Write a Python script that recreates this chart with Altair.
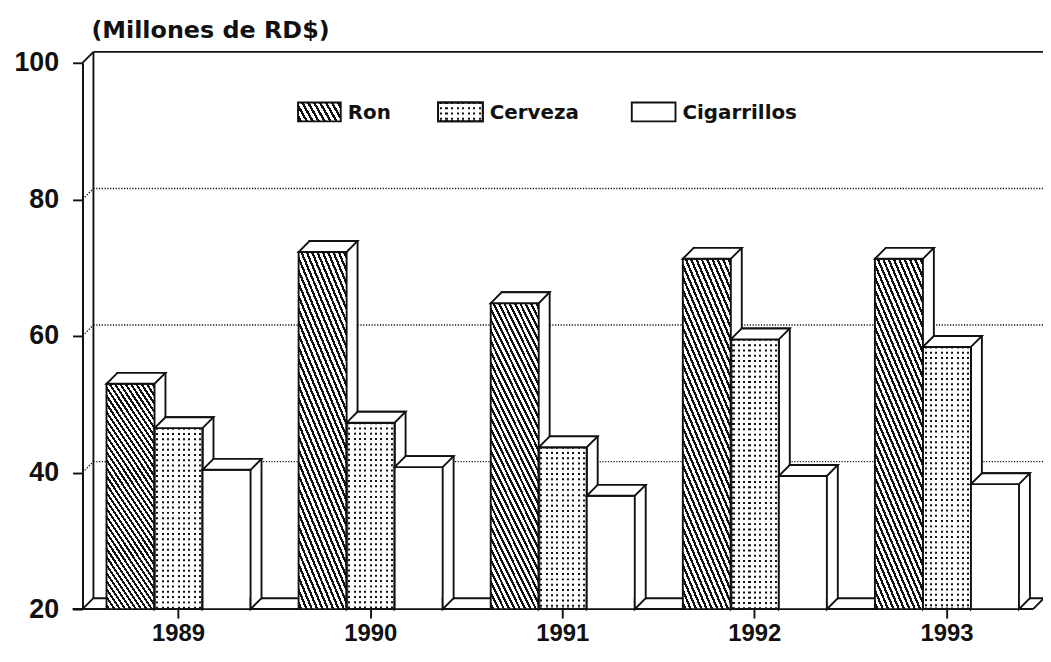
import altair as alt
import pandas as pd

# ---------------- data ----------------
years = ["1989", "1990", "1991", "1992", "1993"]
series = ["Ron", "Cerveza", "Cigarrillos"]
ron = [53.0, 72.3, 64.8, 71.3, 71.3]
cerveza = [46.5, 47.3, 43.7, 59.5, 58.4]
cigarrillos = [40.4, 40.8, 36.6, 39.5, 38.3]
y_ticks = [20, 40, 60, 80, 100]
title_text = "(Millones de RD$)"

rows = []
for name, vals in zip(series, [ron, cerveza, cigarrillos]):
    for yr, v in zip(years, vals):
        rows.append({"year": yr, "series": name, "value": v})
df = pd.DataFrame(rows)
ticks_df = pd.DataFrame({"tick": y_ticks})
one = pd.DataFrame({"k": [0]})

# ---------------- styling / layout constants ----------------
W_PLOT, H_PLOT = 957, 550
RANGE_MAX = 967
SUB = 145.05 / 3          # width of one bar face
D = 11                    # 3-D depth in px
INK = "#111111"
FONT = "DejaVu Sans"
AXFONT = "Liberation Sans"
SW = 1.9


def stripes(x1, y1, x2, y2, n, duty, ink=INK, paper="white"):
    stops = []
    for k in range(n):
        a = k / n
        c = (k + 0.5) / n
        hw = duty / (2 * n)
        for off, col in [(a, paper), (c - hw, paper), (c - hw, ink),
                         (c + hw, ink), (c + hw, paper), ((k + 1) / n, paper)]:
            stops.append({"offset": round(min(max(off, 0), 1), 5), "color": col})
    return {"gradient": "linear", "x1": x1, "y1": y1, "x2": x2, "y2": y2, "stops": stops}


hatch_bar = stripes(0, 1, 0.386, -0.198, 37, 0.45)
cols_bar = stripes(0, 0, 1, 0, 9, 0.38)
hatch_leg = stripes(0, 1, 1.176, 0.706, 9, 0.45)
cols_leg = stripes(0, 0, 1, 0, 8, 0.38)
DOT_DASH = [3.3, 2.0]

x_scale = alt.Scale(domain=years, range=[0, RANGE_MAX], paddingInner=0.25, paddingOuter=0.125)
x_axis = alt.Axis(title=None, domain=False, ticks=True, tickSize=9, tickWidth=SW,
                  tickColor=INK, labelFont=AXFONT, labelFontSize=24, labelFontWeight="bold",
                  labelColor=INK, labelPadding=4, labelAngle=0, grid=False)
y_scale = alt.Scale(domain=[20, 100], nice=False, zero=False)
y_axis = alt.Axis(title=None, values=y_ticks, grid=False, domain=True, domainColor=INK,
                  domainWidth=2, ticks=True, tickSize=10, tickWidth=SW, tickColor=INK,
                  labelFont=AXFONT, labelFontSize=27, labelFontWeight="bold",
                  labelColor=INK, labelPadding=14)


def X():
    return alt.X("year:N", sort=years, scale=x_scale, axis=x_axis)


def Y(field):
    return alt.Y(field, type="quantitative", scale=y_scale, axis=y_axis)


def YD(v):
    return alt.YDatum(v, scale=y_scale, axis=y_axis)


layers = []

# ---------------- back wall, floor, grid ----------------
tk = alt.Chart(ticks_df)
layers.append(tk.transform_filter("datum.tick > 20 && datum.tick < 100")
              .mark_rule(strokeDash=[1.2, 1.6], strokeWidth=1.4, color=INK, yOffset=-D)
              .encode(x=alt.value(D), x2=alt.value(980), y=Y("tick")))
layers.append(tk.transform_filter("datum.tick == 20 || datum.tick == 100")
              .mark_rule(strokeWidth=SW, color=INK, yOffset=-D)
              .encode(x=alt.value(D), x2=alt.value(980), y=Y("tick")))
layers.append(alt.Chart(one).mark_rule(strokeWidth=SW, color=INK, yOffset=-D, y2Offset=-D)
              .encode(x=alt.value(D), y=YD(100), y2=alt.datum(20)))
layers.append(tk.transform_filter("datum.tick > 20 && datum.tick < 100")
              .mark_point(shape="M0,0L11,-11", size=4, stroke=INK, strokeWidth=1.2,
                          strokeDash=[1.5, 1.5], opacity=1, filled=False)
              .encode(x=alt.value(0), y=Y("tick")))
layers.append(tk.transform_filter("datum.tick == 20 || datum.tick == 100")
              .mark_point(shape="M0,0L11,-11", size=4, stroke=INK, strokeWidth=SW,
                          opacity=1, filled=False)
              .encode(x=alt.value(0), y=Y("tick")))
layers.append(alt.Chart(one).mark_rule(strokeWidth=2, color=INK)
              .encode(x=alt.value(-10), x2=alt.value(W_PLOT), y=YD(20)))
layers.append(alt.Chart(one).mark_point(shape="M0,0L11,-11", size=4, stroke=INK,
                                        strokeWidth=SW, opacity=1, filled=False)
              .encode(x=alt.value(W_PLOT), y=YD(20)))

# ---------------- 3-D bars ----------------
h = SUB / 2
top_path = f"M{-h:.2f},0L{h:.2f},0L{h + D:.2f},{-D}L{-h + D:.2f},{-D}Z"
bot_path = f"M{h:.2f},-12.5L{h:.2f},0L{h + D:.2f},{-D}L{h + D:.2f},-12.5"

offsets = [-SUB, 0, SUB]
for name, off in zip(series, offsets):
    base = alt.Chart(df).transform_filter(alt.datum.series == name)
    # back box (visible as side and top strips)
    layers.append(base.mark_bar(width=SUB, xOffset=off + D, yOffset=-D, y2Offset=-D,
                                fill="white", stroke=INK, strokeWidth=SW)
                  .encode(x=X(), y=Y("value"), y2=alt.datum(20)))
    if name == "Ron":
        layers.append(base.mark_bar(width=SUB, xOffset=off, fill=hatch_bar,
                                    stroke=INK, strokeWidth=SW)
                      .encode(x=X(), y=Y("value"), y2=alt.datum(20)))
    elif name == "Cerveza":
        layers.append(base.mark_bar(width=SUB, xOffset=off, fill=cols_bar,
                                    stroke=INK, strokeWidth=SW)
                      .encode(x=X(), y=Y("value"), y2=alt.datum(20)))
        layers.append(base.mark_rule(xOffset=off, strokeWidth=SUB - 3, stroke="white",
                                     strokeDash=DOT_DASH, strokeCap="butt",
                                     yOffset=1.5, y2Offset=-1.5)
                      .encode(x=X(), y=Y("value"), y2=alt.datum(20)))
        layers.append(base.mark_bar(width=SUB, xOffset=off, fillOpacity=0,
                                    stroke=INK, strokeWidth=SW)
                      .encode(x=X(), y=Y("value"), y2=alt.datum(20)))
    else:
        layers.append(base.mark_bar(width=SUB, xOffset=off, fill="white",
                                    stroke=INK, strokeWidth=SW)
                      .encode(x=X(), y=Y("value"), y2=alt.datum(20)))
    layers.append(base.mark_point(shape=top_path, size=4, filled=True, fill="white",
                                  stroke=INK, strokeWidth=SW, opacity=1, xOffset=off)
                  .encode(x=X(), y=Y("value")))
    layers.append(base.mark_point(shape=bot_path, size=4, filled=True, fill="white",
                                  stroke=INK, strokeWidth=SW, opacity=1, xOffset=off)
                  .encode(x=X(), y=YD(20)))

# ---------------- legend ----------------
LY0, LY1 = 40, 59
sw = [(217, 260), (358, 403), (553, 597)]
fills = [hatch_leg, cols_leg, "white"]
o = alt.Chart(one)
for i, name in enumerate(series):
    xa, xb = sw[i]
    layers.append(o.mark_rect(fill=fills[i], stroke=INK, strokeWidth=SW)
                  .encode(x=alt.value(xa), x2=alt.value(xb), y=alt.value(LY0), y2=alt.value(LY1)))
    if name == "Cerveza":
        layers.append(o.mark_rule(stroke="white", strokeWidth=(xb - xa) - 3,
                                  strokeDash=DOT_DASH, strokeCap="butt")
                      .encode(x=alt.value((xa + xb) / 2), y=alt.value(LY0 + 1.5),
                              y2=alt.value(LY1 - 1.5)))
        layers.append(o.mark_rect(fillOpacity=0, stroke=INK, strokeWidth=SW)
                      .encode(x=alt.value(xa), x2=alt.value(xb), y=alt.value(LY0),
                              y2=alt.value(LY1)))
    layers.append(o.mark_text(align="left", baseline="middle", font=FONT, fontSize=20,
                              fontWeight="bold", color=INK)
                  .encode(x=alt.value(xb + 7), y=alt.value((LY0 + LY1) / 2 + 1),
                          text=alt.value(name)))

# ---------------- unit title ----------------
layers.append(o.mark_text(align="left", baseline="alphabetic", font=FONT, fontSize=24,
                          fontWeight="bold", color=INK)
              .encode(x=alt.value(9), y=alt.value(-25), text=alt.value(title_text)))

chart = alt.layer(*layers).properties(
    width=W_PLOT, height=H_PLOT,
    autosize=alt.AutoSizeParams(type="none"),
    padding={"left": 75, "top": 53, "right": 10, "bottom": 41},
    background="white",
).configure_view(strokeWidth=0)

chart.save("out.html", embed_options={"renderer": "svg", "actions": False})
